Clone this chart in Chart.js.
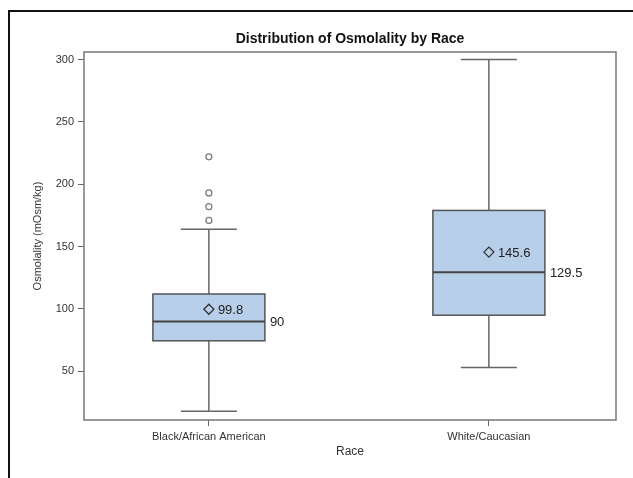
<!DOCTYPE html>
<html>
<head>
<meta charset="utf-8">
<script src="https://cdn.jsdelivr.net/npm/chart.js@4"></script>
<style>
  html, body { margin: 0; padding: 0; background: #fff; }
  #wrap { width: 633px; height: 478px; }
</style>
</head>
<body>
<div id="wrap"><canvas id="grafico" width="633" height="478"></canvas></div>
<script>
// DATOS
const titulo = 'Distribution of Osmolality by Race';
const razas = ['Black/African American', 'White/Caucasian'];
const bigoteBajo = [18, 53];
const q1 = [74.5, 95];
const medianas = [90, 129.5];
const q3 = [112, 179];
const bigoteAlto = [164, 300];
const medias = [99.8, 145.6];
const atipicos = [[171, 182, 193, 222], []];
const ticksY = [50, 100, 150, 200, 250, 300];

const fuente = 'Liberation Sans, Arial, sans-serif';

// marco exterior, borde del area y titulo centrado sobre el area
const marco = {
    id: 'marco',
    beforeDraw(chart) {
        const ctx = chart.ctx;
        ctx.save();
        ctx.strokeStyle = '#111';
        ctx.lineWidth = 2;
        ctx.beginPath();
        ctx.moveTo(9, 478);
        ctx.lineTo(9, 11);
        ctx.lineTo(633, 11);
        ctx.stroke();
        ctx.restore();
    },
    afterDraw(chart) {
        const a = chart.chartArea;
        const ctx = chart.ctx;
        ctx.save();
        ctx.strokeStyle = '#777';
        ctx.lineWidth = 1.5;
        ctx.strokeRect(a.left, a.top, a.right - a.left, a.bottom - a.top);
        ctx.fillStyle = '#111';
        ctx.font = 'bold 14px ' + fuente;
        ctx.textAlign = 'center';
        ctx.textBaseline = 'middle';
        ctx.fillText(titulo, (a.left + a.right) / 2, a.top - 13);
        ctx.restore();
    }
};

// cajas, bigotes y etiquetas
const cajas = {
    id: 'cajas',
    beforeDatasetsDraw(chart) {
        const ctx = chart.ctx;
        const x = chart.scales.x;
        const y = chart.scales.y;
        const medioAncho = (x.getPixelForValue(0.2) - x.getPixelForValue(0));
        const medioTope = medioAncho / 2;
        ctx.save();
        razas.forEach((r, i) => {
            const cx = x.getPixelForValue(i);
            const yq1 = y.getPixelForValue(q1[i]);
            const yq3 = y.getPixelForValue(q3[i]);
            const yMed = y.getPixelForValue(medianas[i]);
            const yLo = y.getPixelForValue(bigoteBajo[i]);
            const yHi = y.getPixelForValue(bigoteAlto[i]);

            // bigotes
            ctx.strokeStyle = '#666';
            ctx.lineWidth = 1.5;
            ctx.beginPath();
            ctx.moveTo(cx, yq3); ctx.lineTo(cx, yHi);
            ctx.moveTo(cx - medioTope, yHi); ctx.lineTo(cx + medioTope, yHi);
            ctx.moveTo(cx, yq1); ctx.lineTo(cx, yLo);
            ctx.moveTo(cx - medioTope, yLo); ctx.lineTo(cx + medioTope, yLo);
            ctx.stroke();

            // caja
            ctx.fillStyle = '#b8cfe9';
            ctx.fillRect(cx - medioAncho, yq3, medioAncho * 2, yq1 - yq3);
            ctx.strokeStyle = '#555';
            ctx.lineWidth = 1.5;
            ctx.strokeRect(cx - medioAncho, yq3, medioAncho * 2, yq1 - yq3);

            // mediana
            ctx.strokeStyle = '#444';
            ctx.lineWidth = 2;
            ctx.beginPath();
            ctx.moveTo(cx - medioAncho, yMed); ctx.lineTo(cx + medioAncho, yMed);
            ctx.stroke();

            // etiquetas
            ctx.fillStyle = '#222';
            ctx.font = '13px ' + fuente;
            ctx.textAlign = 'left';
            ctx.textBaseline = 'middle';
            ctx.fillText(String(medianas[i]), cx + medioAncho + 5, yMed + 1);
            ctx.fillText(medias[i].toFixed(1), cx + 9, y.getPixelForValue(medias[i]) + 1);
        });
        ctx.restore();
    }
};

const puntosAtipicos = [];
atipicos.forEach((lista, i) => lista.forEach(v => puntosAtipicos.push({x: i, y: v})));

new Chart(document.getElementById('grafico'), {
    type: 'scatter',
    data: {
        datasets: [
            {
                label: 'Atipicos',
                data: puntosAtipicos,
                pointStyle: 'circle',
                pointRadius: 3,
                borderColor: '#777',
                borderWidth: 1.2,
                backgroundColor: 'rgba(0,0,0,0)'
            },
            {
                label: 'Media',
                data: medias.map((m, i) => ({x: i, y: m})),
                pointStyle: 'rectRot',
                pointRadius: 5,
                borderColor: '#333',
                borderWidth: 1.3,
                backgroundColor: 'rgba(0,0,0,0)'
            }
        ]
    },
    options: {
        responsive: false,
        animation: false,
        layout: {padding: {left: 0, right: 17, top: 52, bottom: 0}},
        plugins: {
            legend: {display: false},
            tooltip: {enabled: false},
            title: {display: false}
        },
        scales: {
            x: {
                type: 'linear',
                min: -0.446,
                max: 1.454,
                afterBuildTicks: s => { s.ticks = razas.map((r, i) => ({value: i})); },
                afterFit: s => { s.height = 58; },
                grid: {drawOnChartArea: false, drawTicks: true, tickLength: 6, color: '#666'},
                border: {display: false},
                ticks: {
                    color: '#333',
                    font: {family: fuente, size: 11},
                    padding: 4,
                    callback: v => razas[v]
                },
                title: {
                    display: true,
                    text: 'Race',
                    color: '#333',
                    font: {family: fuente, size: 12},
                    padding: {top: 0, bottom: 19}
                }
            },
            y: {
                min: 11,
                max: 306,
                afterBuildTicks: s => { s.ticks = ticksY.map(v => ({value: v})); },
                afterFit: s => { s.width = 84; },
                grid: {drawOnChartArea: false, drawTicks: true, tickLength: 6, color: '#666'},
                border: {display: false},
                ticks: {
                    color: '#333',
                    font: {family: fuente, size: 11},
                    padding: 4
                },
                title: {
                    display: true,
                    text: 'Osmolality (mOsm/kg)',
                    color: '#333',
                    font: {family: fuente, size: 11},
                    padding: {top: 31, bottom: 0}
                }
            }
        }
    },
    plugins: [marco, cajas]
});
</script>
</body>
</html>
